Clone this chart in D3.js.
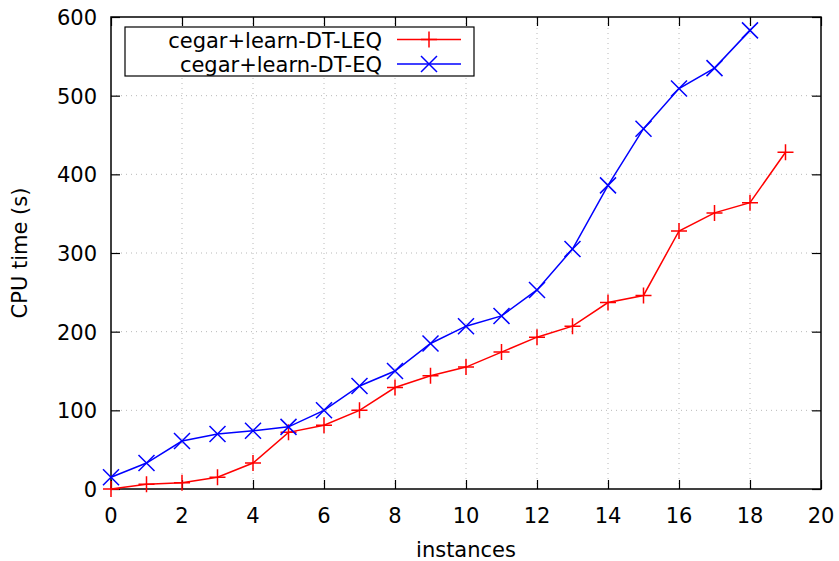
<!DOCTYPE html>
<html>
<head>
<meta charset="utf-8">
<script src="https://cdn.jsdelivr.net/npm/d3@7"></script>
<style>
  body { margin: 0; background: #fff; }
  text { font-family: "DejaVu Sans", sans-serif; }
</style>
</head>
<body>
<svg id="chart"></svg>
<script>
// chart data
var instances = d3.range(0, 20);
var leq_times = [0, 6, 8, 15, 33, 72, 81, 100, 129, 144, 155, 174, 193, 207, 237, 246, 328, 351, 364, 428];
var eq_times = [15, 33, 61, 70, 74, 79, 100, 131, 150, 185, 207, 220, 253, 305, 386, 458, 509, 535, 583];
var x_ticks = d3.range(0, 21, 2);
var y_ticks = d3.range(0, 601, 100);
var series_names = ['cegar+learn-DT-LEQ', 'cegar+learn-DT-EQ'];

var svg_width = 839,
  svg_height = 561,
  margin = { left: 111, right: 18, top: 17, bottom: 72 },
  tick_len = 9,
  font_size = 21;

var svg = d3.select('#chart').attr('width', svg_width).attr('height', svg_height);

var x = d3.scaleLinear().domain([0, 20]).range([margin.left, svg_width - margin.right]);
var y = d3.scaleLinear().domain([0, 600]).range([svg_height - margin.bottom, margin.top]);

var x0 = x.range()[0], x1 = x.range()[1], y0 = y.range()[0], y1 = y.range()[1];

// dotted grid
var grid = svg.append('g').attr('stroke', '#b8b8b8').attr('stroke-width', 1).attr('stroke-dasharray', '1,4');
grid.selectAll('.gx').data(x_ticks.slice(1, -1)).enter().append('line')
  .attr('x1', function(d) { return x(d); }).attr('x2', function(d) { return x(d); })
  .attr('y1', y0).attr('y2', y1);
grid.selectAll('.gy').data(y_ticks.slice(1, -1)).enter().append('line')
  .attr('y1', function(d) { return y(d); }).attr('y2', function(d) { return y(d); })
  .attr('x1', x0).attr('x2', x1);

// axes with inward ticks on every side
svg.append('g').attr('transform', 'translate(0,' + y0 + ')')
  .call(d3.axisTop(x).tickValues(x_ticks).tickSize(tick_len).tickFormat(''));
svg.append('g').attr('transform', 'translate(0,' + y1 + ')')
  .call(d3.axisBottom(x).tickValues(x_ticks).tickSize(tick_len).tickFormat(''));
svg.append('g').attr('transform', 'translate(' + x0 + ',0)')
  .call(d3.axisRight(y).tickValues(y_ticks).tickSize(tick_len).tickFormat(''));
svg.append('g').attr('transform', 'translate(' + x1 + ',0)')
  .call(d3.axisLeft(y).tickValues(y_ticks).tickSize(tick_len).tickFormat(''));
svg.selectAll('.domain').remove();
svg.selectAll('.tick line').attr('stroke', '#000').attr('stroke-width', 1.2);

// frame
svg.append('rect').attr('x', x0).attr('y', y1).attr('width', x1 - x0).attr('height', y0 - y1)
  .attr('fill', 'none').attr('stroke', '#000').attr('stroke-width', 1.5);

// tick labels
svg.selectAll('.xl').data(x_ticks).enter().append('text')
  .attr('x', function(d) { return x(d); }).attr('y', y0 + 34)
  .attr('text-anchor', 'middle').attr('font-size', font_size).text(function(d) { return d; });
svg.selectAll('.yl').data(y_ticks).enter().append('text')
  .attr('x', x0 - 14).attr('y', function(d) { return y(d) + 8; })
  .attr('text-anchor', 'end').attr('font-size', font_size).text(function(d) { return d; });

// axis titles
svg.append('text').attr('x', (x0 + x1) / 2).attr('y', svg_height - 4)
  .attr('text-anchor', 'middle').attr('font-size', font_size).text('instances');
svg.append('text').attr('transform', 'translate(27,' + (y0 + y1) / 2 + ') rotate(-90)')
  .attr('text-anchor', 'middle').attr('font-size', font_size).text('CPU time (s)');

// markers
function plus_path(s) { return 'M' + -s + ',0H' + s + 'M0,' + -s + 'V' + s; }
function cross_path(s) { return 'M' + -s + ',' + -s + 'L' + s + ',' + s + 'M' + -s + ',' + s + 'L' + s + ',' + -s; }

var series = [
  { name: series_names[0], values: leq_times, color: '#ff0000', marker: plus_path(8) },
  { name: series_names[1], values: eq_times, color: '#0000ff', marker: cross_path(8) }
];

var line = d3.line()
  .x(function(d, i) { return x(instances[i]); })
  .y(function(d) { return y(d); });

series.forEach(function(s) {
  svg.append('path').datum(s.values).attr('d', line)
    .attr('fill', 'none').attr('stroke', s.color).attr('stroke-width', 1.5);
  svg.selectAll(null).data(s.values).enter().append('path')
    .attr('transform', function(d, i) { return 'translate(' + x(instances[i]) + ',' + y(d) + ')'; })
    .attr('d', s.marker).attr('stroke', s.color).attr('stroke-width', 1.5).attr('fill', 'none');
});

// legend
var legend = svg.append('g');
legend.append('rect').attr('x', 125).attr('y', 27).attr('width', 349).attr('height', 49)
  .attr('fill', '#fff').attr('stroke', '#000').attr('stroke-width', 1.2);
series.forEach(function(s, i) {
  var ly = 39.5 + i * 24.5;
  legend.append('text').attr('x', 382).attr('y', ly + 8).attr('text-anchor', 'end')
    .attr('font-size', font_size).text(s.name);
  legend.append('line').attr('x1', 397).attr('x2', 461).attr('y1', ly).attr('y2', ly)
    .attr('stroke', s.color).attr('stroke-width', 1.5);
  legend.append('path').attr('transform', 'translate(429,' + ly + ')')
    .attr('d', s.marker).attr('stroke', s.color).attr('stroke-width', 1.5).attr('fill', 'none');
});
</script>
</body>
</html>
